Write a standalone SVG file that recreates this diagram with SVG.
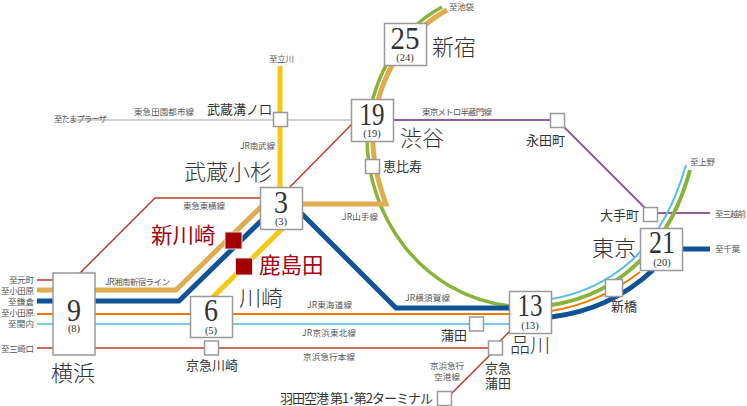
<svg xmlns="http://www.w3.org/2000/svg" width="747" height="406" viewBox="0 0 747 406">
<style>
text{font-family:"Noto Sans CJK JP","Liberation Serif",sans-serif;fill:#333;font-weight:300}
.n{font-family:"Liberation Serif",serif;text-anchor:middle;fill:#333;font-weight:400;font-size:31px}
.p{font-family:"Liberation Serif",serif;text-anchor:middle;fill:#333;font-weight:400;font-size:10.500px}
.s{font-size:8.500px;fill:#555;font-weight:400}
.m{font-size:13px;font-weight:400}
.l{font-size:22px}
.r{fill:#a50012;font-size:21.500px;font-weight:400}
.box{fill:#fff;stroke:#999;stroke-width:1.5}
.sq{fill:#fff;stroke:#999;stroke-width:1.5}
.red{fill:#a50000;stroke:#ddd;stroke-width:1}
path{fill:none}
</style>
<g id="connectors">
<path d="M71 120H351" stroke="#d2d2d2" stroke-width="2"/>
<path d="M280 66V190" stroke="#f6c913" stroke-width="5"/>
<path d="M285 226L212 298" stroke="#f6c913" stroke-width="5"/>
<path d="M37 280H56M78 275L155 198H262M288 189L353 123" stroke="#c0392b" stroke-width="1.5"/>
<path d="M37 348H493L510 331M497 348L449 396" stroke="#c0392b" stroke-width="1.5"/>
<path d="M393 120H557L650 213M650 213H710" stroke="#8e5ea2" stroke-width="2"/>
<path d="M37 314H510" stroke="#ee7b00" stroke-width="2"/>
<path d="M37 324H510" stroke="#7ecaec" stroke-width="2"/>
<path d="M551 311Q600 303 640 272" stroke="#ee7b00" stroke-width="2"/>
<path d="M551 299Q595 292 630 262Q668 228 686 165" stroke="#5bbce4" stroke-width="2"/>
<path d="M442 7C395 32 370 85 367 135C366 215 420 295 510 306" stroke="#8ab33c" stroke-width="3.500"/>
<path d="M551 305C620 295 670 245 690 170" stroke="#8ab33c" stroke-width="4"/>
<path d="M447 10C400 36 375 85 373 135C372 160 379 185 386 204H300" stroke="#e0ac50" stroke-width="5"/>
<path d="M37 290H176L262 206" stroke="#e0ac50" stroke-width="5"/>
<path d="M37 301H179L262 220M300 212L396 308H510" stroke="#0f5296" stroke-width="5"/>
<path d="M551 317Q610 310 653 270" stroke="#0f5296" stroke-width="5"/>
<path d="M683 249H710" stroke="#0f5296" stroke-width="5"/>
</g>
<g id="yokohama"><rect class="box" x="53" y="273" width="42" height="82"/><text class="n" x="74" y="321" textLength="14" lengthAdjust="spacingAndGlyphs">9</text><text class="p" x="74" y="332">(8)</text><text class="l" x="51" y="381">横浜</text></g>
<g id="kawasaki"><rect class="box" x="190.500" y="296.500" width="42" height="41"/><text class="n" x="211" y="321" textLength="14" lengthAdjust="spacingAndGlyphs">6</text><text class="p" x="211" y="334">(5)</text><text class="l" x="239" y="306">川崎</text></g>
<g id="musashikosugi"><rect class="box" x="260.500" y="187.500" width="42" height="42"/><text class="n" x="281" y="213" textLength="14" lengthAdjust="spacingAndGlyphs">3</text><text class="p" x="281" y="225">(3)</text><text class="l" x="184" y="180">武蔵小杉</text></g>
<g id="shibuya"><rect class="box" x="351.500" y="99.500" width="42" height="42"/><text class="n" x="372" y="125" textLength="25" lengthAdjust="spacingAndGlyphs">19</text><text class="p" x="372" y="137">(19)</text><text class="l" x="400" y="146">渋谷</text></g>
<g id="shinjuku"><rect class="box" x="384.500" y="23.500" width="42" height="42"/><text class="n" x="405" y="49" textLength="29" lengthAdjust="spacingAndGlyphs">25</text><text class="p" x="405" y="61">(24)</text><text class="l" x="432" y="55">新宿</text></g>
<g id="shinagawa"><rect class="box" x="509.500" y="291.500" width="42" height="42"/><text class="n" x="530" y="316" textLength="25" lengthAdjust="spacingAndGlyphs">13</text><text class="p" x="530" y="329">(13)</text><text class="l" x="510" y="353" style="font-size:20px">品川</text></g>
<g id="tokyo"><rect class="box" x="640.500" y="228.500" width="42" height="42"/><text class="n" x="662" y="253" textLength="26" lengthAdjust="spacingAndGlyphs">21</text><text class="p" x="662" y="266">(20)</text><text class="l" x="592" y="256">東京</text></g>
<g id="mizonokuchi"><rect class="sq" x="273.500" y="112.500" width="14" height="14"/><text class="m" x="207" y="114">武蔵溝ノ口</text></g>
<g id="ebisu"><rect class="sq" x="365.500" y="159.500" width="14" height="14"/><text class="m" x="383" y="171">恵比寿</text></g>
<g id="nagatacho"><rect class="sq" x="550.500" y="113.500" width="14" height="14"/><text class="m" x="526" y="145">永田町</text></g>
<g id="otemachi"><rect class="sq" x="643.500" y="207.500" width="14" height="14"/><text class="m" x="600" y="220">大手町</text></g>
<g id="shimbashi"><rect class="sq" x="605.500" y="279.500" width="17" height="17"/><text class="m" x="611" y="311">新橋</text></g>
<g id="kamata"><rect class="sq" x="469.500" y="317" width="14" height="14"/><text class="m" x="441" y="340">蒲田</text></g>
<g id="keikyukamata"><rect class="sq" x="488.500" y="341" width="14" height="14"/><text class="m" x="485" y="373">京急</text><text class="m" x="485" y="388">蒲田</text></g>
<g id="haneda"><rect class="sq" x="437.500" y="391.500" width="14" height="14"/><text class="m" x="280" y="403" textLength="153">羽田空港 第1･第2ターミナル</text></g>
<g id="keikyukawasaki"><rect class="sq" x="204.500" y="341" width="14" height="14"/><text class="m" x="186" y="370">京急川崎</text></g>
<g id="shinkawasaki"><rect class="red" x="225" y="232" width="17" height="17"/><text class="r" x="151" y="243">新川崎</text></g>
<g id="kashimada"><rect class="red" x="235.500" y="258" width="17" height="17"/><text class="r" x="259" y="273">鹿島田</text></g>
<g id="labels">
<text class="s" x="9" y="283" textLength="25">至元町</text>
<text class="s" x="1" y="294" textLength="33">至小田原</text>
<text class="s" x="8" y="305" textLength="26">至鎌倉</text>
<text class="s" x="1" y="316" textLength="33">至小田原</text>
<text class="s" x="8" y="327" textLength="26">至関内</text>
<text class="s" x="1" y="352" textLength="33">至三崎口</text>
<text class="s" x="54" y="122" textLength="53">至たまプラーザ</text>
<text class="s" x="134" y="115" textLength="60">東急田園都市線</text>
<text class="s" x="269" y="62" textLength="25">至立川</text>
<text class="s" x="240" y="149" textLength="35">JR南武線</text>
<text class="s" x="183" y="209" textLength="42">東急東横線</text>
<text class="s" x="105" y="285" textLength="65">JR湘南新宿ライン</text>
<text class="s" x="342" y="220" textLength="36">JR山手線</text>
<text class="s" x="307" y="308" textLength="45">JR東海道線</text>
<text class="s" x="302" y="336" textLength="54">JR京浜東北線</text>
<text class="s" x="303" y="360" textLength="52">京浜急行本線</text>
<text class="s" x="405" y="301" textLength="45">JR横須賀線</text>
<text class="s" x="430" y="369" textLength="34">京浜急行</text>
<text class="s" x="434" y="380" textLength="26">空港線</text>
<text class="s" x="422" y="115" textLength="70">東京メトロ半蔵門線</text>
<text class="s" x="449" y="9.500" textLength="25">至池袋</text>
<text class="s" x="690" y="165" textLength="25">至上野</text>
<text class="s" x="715" y="217" textLength="31">至三越前</text>
<text class="s" x="715" y="252" textLength="25">至千葉</text>
</g>
</svg>
